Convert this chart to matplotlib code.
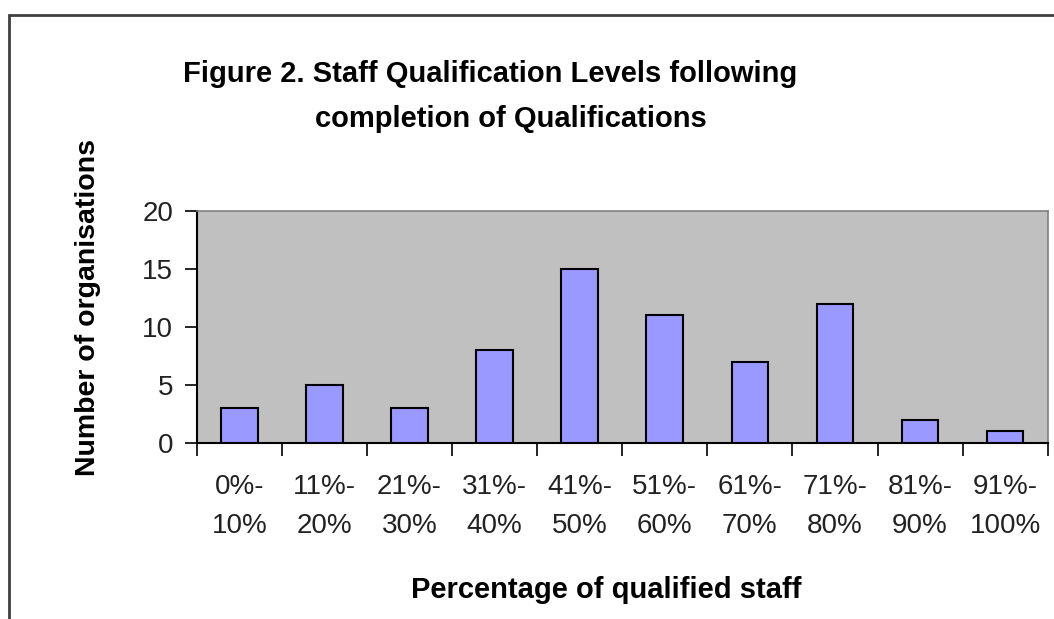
import matplotlib
matplotlib.use("Agg")
import matplotlib.pyplot as plt
from matplotlib.patches import Rectangle

categories = ["0%-\n10%", "11%-\n20%", "21%-\n30%", "31%-\n40%", "41%-\n50%",
              "51%-\n60%", "61%-\n70%", "71%-\n80%", "81%-\n90%", "91%-\n100%"]
organisations = [3, 5, 3, 8, 15, 11, 7, 12, 2, 1]
yticks = [0, 5, 10, 15, 20]

title_line1 = "Figure 2. Staff Qualification Levels following"
title_line2 = "completion of Qualifications"
xlabel = "Percentage of qualified staff"
ylabel = "Number of organisations"

plt.rcParams['font.family'] = ['Liberation Sans', 'DejaVu Sans']

W, H = 1054, 619
fig = plt.figure(figsize=(W / 100, H / 100), dpi=100)
fig.patch.set_facecolor("white")

# figure border (chart-area frame, clipped at right/bottom)
fig.add_artist(Rectangle((8.5 / W, -0.1), 1.2, (H - 15) / H + 0.1, transform=fig.transFigure,
                         fill=False, edgecolor="#404040", linewidth=2.0))

left, right, top, bottom = 196.7, 1047.7, 211, 443
ax = fig.add_axes([left / W, 1 - bottom / H, (right - left) / W, (bottom - top) / H])
ax.set_facecolor("#C0C0C0")

x = list(range(len(categories)))
ax.bar(x, organisations, width=0.43, color="#9999FF", edgecolor="black", linewidth=1.5, zorder=3)

ax.set_xlim(-0.5, len(categories) - 0.5)
ax.set_ylim(0, 20)
ax.set_yticks(yticks)
ax.set_yticklabels([str(v) for v in yticks], fontsize=20, color="#222222")
ax.tick_params(axis="y", direction="out", length=9, width=1.2, pad=8)

ax.set_xticks([i - 0.5 for i in range(len(categories) + 1)])
ax.set_xticklabels([])
ax.set_xticks(x, minor=True)
ax.set_xticklabels(categories, minor=True, fontsize=20, color="#222222", linespacing=1.66)
ax.tick_params(axis="x", which="major", direction="out", length=9, width=1.2)
ax.tick_params(axis="x", which="minor", length=0, pad=22)

for s in ["left", "bottom"]:
    ax.spines[s].set_color("black")
    ax.spines[s].set_linewidth(1.5)
for s in ["top", "right"]:
    ax.spines[s].set_color("#808080")
    ax.spines[s].set_linewidth(1.2)

fig.text(490.5 / W, 1 - 82 / H, title_line1, ha="center", va="baseline", fontsize=21, fontweight="bold")
fig.text(510.5 / W, 1 - 127 / H, title_line2, ha="center", va="baseline", fontsize=21, fontweight="bold")
fig.text(606 / W, 1 - 598 / H, xlabel, ha="center", va="baseline", fontsize=21, fontweight="bold")
fig.text(88 / W, 1 - 307 / H, ylabel, ha="center", va="center", rotation=90, fontsize=20.5, fontweight="bold")

fig.savefig("out.png", dpi=100)
